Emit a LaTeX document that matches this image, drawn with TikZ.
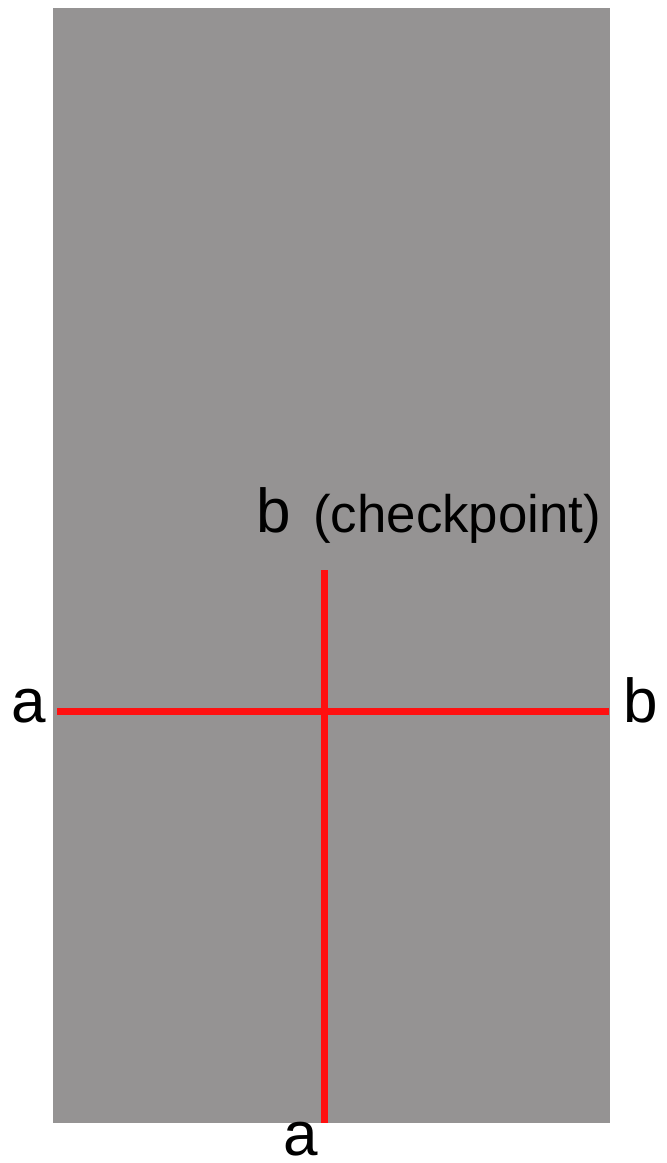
\documentclass[tikz,border=0pt]{standalone}
\usepackage{fontspec}
\setmainfont{Liberation Sans}
\usetikzlibrary{positioning}
\definecolor{wallgray}{RGB}{149,147,147}
\definecolor{markred}{RGB}{255,16,16}

\begin{document}
\begin{tikzpicture}[x=0.5pt,y=-0.5pt,
  markline/.style={markred,line width=3.5pt},
  letter/.style={font=\fontsize{31}{31}\selectfont,inner sep=0pt,anchor=base}]
\useasboundingbox (0,0) rectangle (666,1163);
\fill[wallgray] (53,8) rectangle (610,1123);
% ends of the two marks
\coordinate (aleft) at (57,711);
\coordinate (bright) at (609,711);
\coordinate (btop) at (324,570);
\coordinate (abot) at (324,1123);
\draw[markline] (aleft)--(bright);
\draw[markline] (btop)--(abot);
\node[letter] (la) at (29,722) {a};
\node[letter] (rb) at (641,722) {b};
\node[letter] (tb) at (274,532) {b};
\node[font=\fontsize{26.4}{26.4}\selectfont,inner sep=0pt,anchor=base west] (check) at (313,532) {(checkpoint)};
\node[letter] (ba) at (301,1155) {a};
\end{tikzpicture}
\end{document}
